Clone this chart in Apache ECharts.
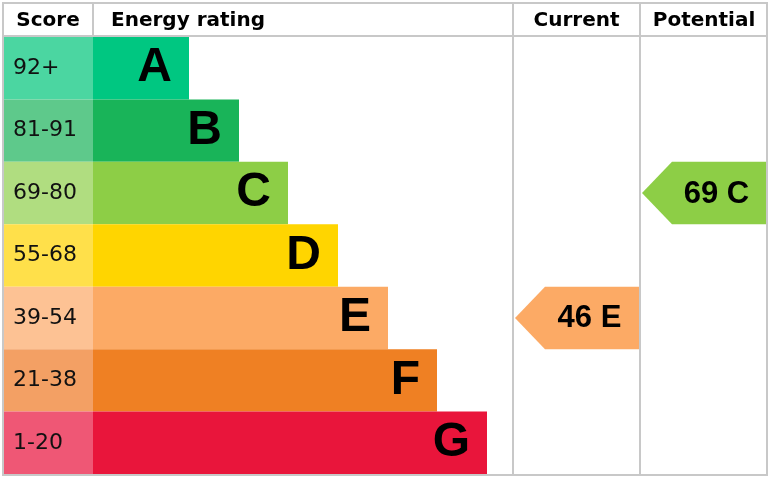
<!DOCTYPE html>
<html><head><meta charset="utf-8">
<script src="https://cdn.jsdelivr.net/npm/echarts@6/dist/echarts.min.js"></script>
<style>html,body{margin:0;padding:0;background:#fff}#c{width:771px;height:477px}</style>
</head><body><div id="c"></div>
<script>
// ---- data ----
const bands = ['A','B','C','D','E','F','G'];
const scoreRanges = ['92+','81-91','69-80','55-68','39-54','21-38','1-20'];
const barLengths = [96,146,195,245,295,344,394];
const scoreCellWidths = [90,90,90,90,90,90,90];
const bandColors = ['#00c781','#19b459','#8dce46','#ffd500','#fcaa65','#ef8023','#e9153b'];
const scoreColors = ['#4bd6a1','#5ec98b','#b0dd80','#ffe04a','#fdc294','#f3a064','#ef5775'];
const headers = ['Score','Energy rating','Current','Potential'];
const columnEdges = [0, 90, 510, 637, 764];
const currentRating = {column: 2, score: 46, band: 'E'};
const potentialRating = {column: 3, score: 69, band: 'C'};
const ratings = [currentRating, potentialRating];

// ---- chart ----
const chart = echarts.init(document.getElementById('c'), null, {renderer: 'canvas'});
const border = '#c8c8c8';
const ink = '#000';

const option = {
  animation: false,
  backgroundColor: '#fff',
  grid: {left: 3, top: 37, width: 764, height: 437},
  xAxis: {type: 'value', min: 0, max: 764, show: false},
  yAxis: {type: 'category', data: bands, inverse: true, show: false},
  series: [
    {
      type: 'bar', stack: 'row', barCategoryGap: 0,
      data: scoreCellWidths.map((v, i) => ({value: v, itemStyle: {color: scoreColors[i]}})),
      label: {
        show: true, position: 'insideLeft', distance: 10,
        formatter: p => scoreRanges[p.dataIndex],
        color: '#111', fontSize: 22, fontFamily: 'DejaVu Sans'
      }
    },
    {
      type: 'bar', stack: 'row', barCategoryGap: 0,
      data: barLengths.map((v, i) => ({value: v, itemStyle: {color: bandColors[i]}})),
      label: {
        show: true, position: 'insideRight', distance: 17,
        formatter: p => bands[p.dataIndex],
        color: ink, fontSize: 48, fontWeight: 'bold', fontFamily: 'Liberation Sans'
      }
    },
    {
      type: 'custom',
      coordinateSystem: 'cartesian2d',
      data: ratings.map(r => [r.column, bands.indexOf(r.band)]),
      renderItem: function (params, api) {
        const col = api.value(0), row = api.value(1);
        const x0 = api.coord([columnEdges[col], row])[0];
        const x1 = api.coord([columnEdges[col + 1], row])[0];
        const yc = api.coord([0, row])[1];
        const h = api.size([0, 1])[1];
        const top = yc - h / 2, bottom = yc + h / 2;
        const tip = x0 + 2, flat = x0 + 32;
        const r = ratings[params.dataIndex];
        return {
          type: 'group',
          children: [
            {type: 'polygon', shape: {points: [[tip, yc], [flat, top], [x1, top], [x1, bottom], [flat, bottom]]},
             style: {fill: bandColors[row]}},
            {type: 'text', style: {text: r.score + ' ' + r.band, x: (flat + x1) / 2 - 3, y: yc + 1,
              align: 'center', verticalAlign: 'middle', fill: ink,
              font: 'bold 31px "Liberation Sans"'}}
          ]
        };
      }
    }
  ],
  graphic: [
    {type: 'rect', z: 100, shape: {x: 3, y: 3, width: 764, height: 472}, style: {fill: 'none', stroke: border, lineWidth: 2}},
    {type: 'line', z: 100, shape: {x1: 3, y1: 36, x2: 767, y2: 36}, style: {stroke: border, lineWidth: 2}},
    {type: 'line', z: 100, shape: {x1: 93, y1: 3, x2: 93, y2: 36}, style: {stroke: border, lineWidth: 2}},
    {type: 'line', z: 100, shape: {x1: 513, y1: 3, x2: 513, y2: 475}, style: {stroke: border, lineWidth: 2}},
    {type: 'line', z: 100, shape: {x1: 640, y1: 3, x2: 640, y2: 475}, style: {stroke: border, lineWidth: 2}},
    {type: 'text', z: 100, style: {text: headers[0], x: 48, y: 21, align: 'center', verticalAlign: 'middle', fill: ink, font: 'bold 20px "DejaVu Sans"'}},
    {type: 'text', z: 100, style: {text: headers[1], x: 111, y: 21, align: 'left', verticalAlign: 'middle', fill: ink, font: 'bold 20px "DejaVu Sans"'}},
    {type: 'text', z: 100, style: {text: headers[2], x: 576.5, y: 21, align: 'center', verticalAlign: 'middle', fill: ink, font: 'bold 20px "DejaVu Sans"'}},
    {type: 'text', z: 100, style: {text: headers[3], x: 704, y: 21, align: 'center', verticalAlign: 'middle', fill: ink, font: 'bold 20px "DejaVu Sans"'}}
  ]
};
chart.setOption(option);
</script>
</body></html>
